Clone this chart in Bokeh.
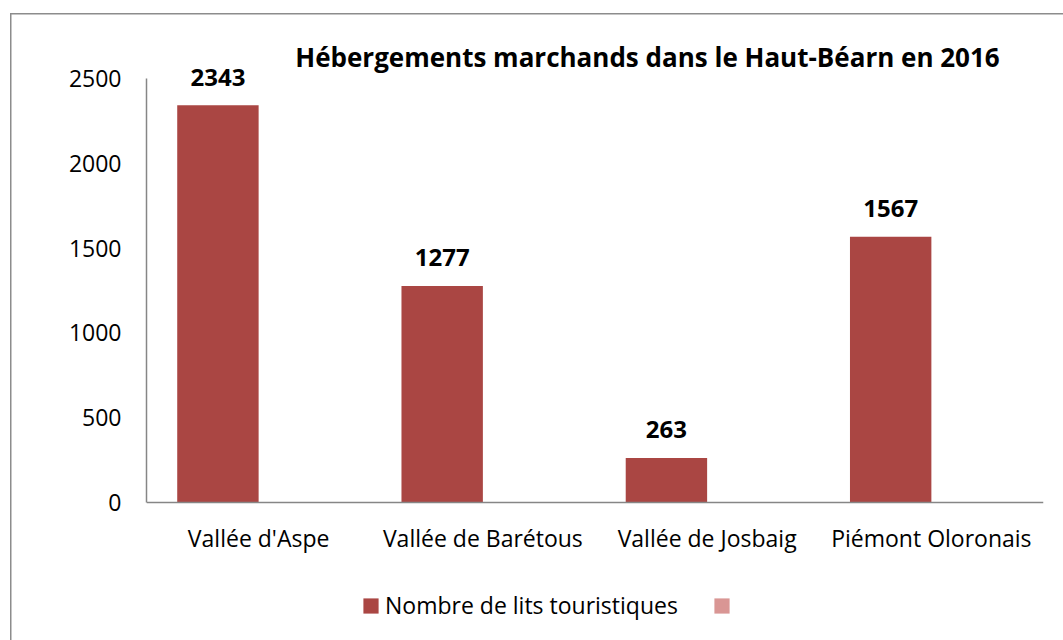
import math
from bokeh.plotting import figure
from bokeh.models import (FactorRange, Range1d, FixedTicker, Legend, LegendItem,
                          ColumnDataSource, Label)
from bokeh.transform import dodge
from bokeh.core.properties import value
from bokeh.embed import file_html
from bokeh.resources import INLINE

categories = ["Vallée d'Aspe", "Vallée de Barétous", "Vallée de Josbaig", "Piémont Oloronais"]
lits = [2343, 1277, 263, 1567]
serie2 = [math.nan, math.nan, math.nan, math.nan]   # second (empty) series
labels = [str(v) for v in lits]
y_ticks = [0, 500, 1000, 1500, 2000, 2500]
title_text = "Hébergements marchands dans le Haut-Béarn en 2016"
series_name = "Nombre de lits touristiques"

FONT = "Open Sans"
BAR = "#AA4643"
PINK = "#D99694"
AXIS = "#868686"
FRAME_GRAY = "#8C8C8C"

W, H = 1063, 640
LEFT, RIGHT = 146, 20
Y_TOP_PX, Y_ZERO_PX = 78, 502          # pixel rows of 2500 and 0
YMAX = 2500
k = (Y_ZERO_PX - Y_TOP_PX) / YMAX      # px per unit
y_start = -(H - Y_ZERO_PX) / k
y_end = YMAX + Y_TOP_PX / k

src = ColumnDataSource(dict(cat=categories, val=lits, lab=labels, v2=serie2))

p = figure(width=W, height=H, output_backend="svg", toolbar_location=None,
           x_range=FactorRange(*categories), y_range=Range1d(y_start, y_end),
           min_border_left=LEFT, min_border_right=RIGHT, min_border_top=0,
           min_border_bottom=0)
p.x_range.range_padding = 0
p.outline_line_color = None
p.xgrid.grid_line_color = None
p.ygrid.grid_line_color = None
p.border_fill_alpha = 0
p.background_fill_alpha = 0
p.styles = {
    "background": (f"linear-gradient({FRAME_GRAY},{FRAME_GRAY}) 10px 13px / 1.5px 100% no-repeat, "
                   f"linear-gradient({FRAME_GRAY},{FRAME_GRAY}) 10px 13px / 100% 1.5px no-repeat, white"),
}

r1 = p.vbar(x=dodge('cat', -0.1815, range=p.x_range), top='val', width=0.363,
            source=src, fill_color=BAR, line_color=None)
r2 = p.vbar(x=dodge('cat', 0.1815, range=p.x_range), top='v2', width=0.363,
            source=src, fill_color=PINK, line_color=None)

p.text(x=dodge('cat', -0.1815, range=p.x_range), y='val', text='lab', source=src,
       text_font=value(FONT), text_font_style="bold", text_font_size="24px",
       text_align="center", text_baseline="alphabetic", y_offset=-28,
       text_color="black")

for ax in (p.xaxis[0], p.yaxis[0]):
    ax.axis_line_color = AXIS
    ax.axis_line_width = 1.5
    ax.major_tick_line_color = None
    ax.minor_tick_line_color = None
    ax.major_tick_out = 0
    ax.major_tick_in = 0
    ax.major_label_text_font = FONT
    ax.major_label_text_font_size = "23px"
    ax.major_label_text_color = "black"
p.yaxis[0].ticker = FixedTicker(ticks=y_ticks)
p.yaxis[0].bounds = (0, YMAX)
p.yaxis[0].major_label_standoff = 25
p.xaxis[0].fixed_location = 0
p.xaxis[0].major_label_standoff = 19

p.add_layout(Label(x=2.234, y=YMAX, y_offset=22, text=title_text,
                   text_font=FONT, text_font_style="bold", text_font_size="26px",
                   text_color="black", text_align="center", text_baseline="middle"))

legend = Legend(items=[LegendItem(label=series_name, renderers=[r1]),
                       LegendItem(label=" ", renderers=[r2])],
                location=(215, 19), orientation="horizontal",
                glyph_width=19, glyph_height=19, label_standoff=5, spacing=34,
                padding=0, margin=0, border_line_color=None,
                background_fill_alpha=0, label_text_font=FONT,
                label_text_color="black", label_text_font_size="23px")
p.add_layout(legend, "center")

open("out.html", "w").write(file_html(p, INLINE))
